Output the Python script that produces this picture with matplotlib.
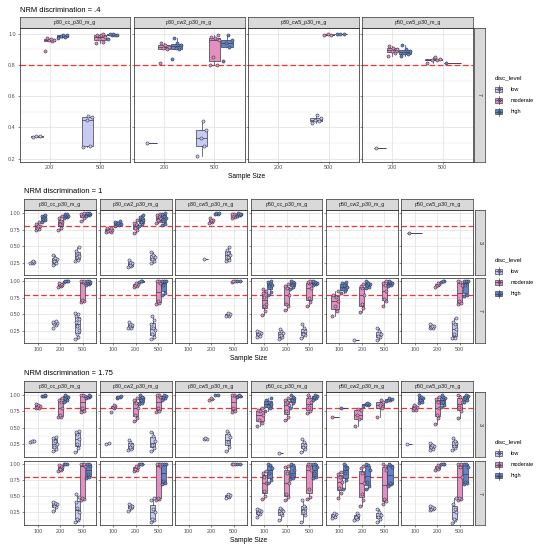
import matplotlib
matplotlib.use("Agg")
import matplotlib.pyplot as plt
from matplotlib.patches import Rectangle
from matplotlib.lines import Line2D

plt.rcParams['font.family'] = ['Liberation Sans', 'DejaVu Sans']

# ---------------- data ----------------
LEVELS = ["low", "moderate", "high"]
SAMPLE_TOP = [200, 500]
SAMPLE = [100, 200, 500]
COLS_TOP = ["p30_cc_p30_m_g", "p30_cw2_p30_m_g", "p30_cw5_p30_m_g", "p50_cw5_p30_m_g"]
COLS = ["p30_cc_p30_m_g", "p30_cw2_p30_m_g", "p30_cw5_p30_m_g",
        "p50_cc_p30_m_g", "p50_cw2_p30_m_g", "p50_cw5_p30_m_g"]
ROWS_TOP = ["7"]
ROWS = ["3", "7"]
TITLES = ["NRM discrimination = .4", "NRM discrimination = 1", "NRM discrimination = 1.75"]
CUTOFF = 0.8

# NRM discrimination = .4, row "7"
d04_p30cc = [
    (200, "low", [0.338, 0.343, 0.347]),
    (200, "moderate", [0.89, 0.955, 0.96, 0.962, 0.965, 0.97]),
    (200, "high", [0.975, 0.98, 0.985, 0.99, 0.99]),
    (500, "low", [0.275, 0.28, 0.45, 0.465, 0.475]),
    (500, "moderate", [0.94, 0.95, 0.965, 0.98, 0.99, 0.995, 1.0]),
    (500, "high", [0.965, 0.99, 0.993, 0.995, 1.0, 1.0]),
]
d04_p30cw2 = [
    (200, "low", [0.302]),
    (200, "moderate", [0.815, 0.90, 0.91, 0.915, 0.93, 0.94]),
    (200, "high", [0.84, 0.90, 0.91, 0.93, 0.94, 0.97]),
    (500, "low", [0.22, 0.28, 0.33, 0.385, 0.44]),
    (500, "moderate", [0.80, 0.80, 0.85, 0.96, 0.97, 0.98, 0.99]),
    (500, "high", [0.825, 0.915, 0.94, 0.96, 0.99]),
]
d04_p30cw5 = [
    (500, "low", [0.43, 0.44, 0.45, 0.46, 0.48]),
    (500, "moderate", [0.99, 0.995, 1.0]),
    (500, "high", [0.998, 1.0, 1.0]),
]
d04_p50cw5 = [
    (200, "low", [0.268]),
    (200, "moderate", [0.86, 0.88, 0.89, 0.90, 0.91, 0.92]),
    (200, "high", [0.855, 0.87, 0.88, 0.89, 0.90, 0.93]),
    (500, "moderate", [0.815, 0.83, 0.835, 0.84, 0.85]),
    (500, "high", [0.811]),
]

# NRM discrimination = 1
d1_p30cc_3 = [
    (100, "low", [0.24, 0.25, 0.26, 0.265, 0.27]),
    (100, "moderate", [0.74, 0.76, 0.78, 0.80, 0.81, 0.83, 0.86]),
    (100, "high", [0.87, 0.89, 0.91, 0.93, 0.95, 0.96, 0.97]),
    (200, "low", [0.21, 0.24, 0.27, 0.30, 0.32, 0.36]),
    (200, "moderate", [0.75, 0.78, 0.83, 0.86, 0.88, 0.92, 0.96]),
    (200, "high", [0.93, 0.94, 0.95, 0.96, 0.97, 0.98, 0.99]),
    (500, "low", [0.27, 0.29, 0.33, 0.35, 0.40, 0.42, 0.48]),
    (500, "moderate", [0.88, 0.93, 0.95, 0.97, 0.98, 0.99, 1.0]),
    (500, "high", [0.96, 0.975, 0.98, 0.99, 1.0, 1.0]),
]
d1_p30cw2_3 = [
    (100, "moderate", [0.71, 0.72, 0.73, 0.74, 0.75, 0.77, 0.78]),
    (100, "high", [0.80, 0.82, 0.83, 0.84, 0.85, 0.87, 0.88]),
    (200, "low", [0.18, 0.20, 0.22, 0.24, 0.26, 0.29]),
    (200, "moderate", [0.70, 0.74, 0.77, 0.80, 0.83, 0.85, 0.90]),
    (200, "high", [0.80, 0.84, 0.87, 0.89, 0.92, 0.94, 0.97]),
    (500, "low", [0.24, 0.28, 0.31, 0.33, 0.37, 0.41]),
    (500, "moderate", [0.85, 0.88, 0.90, 0.93, 0.95, 0.97, 0.99]),
    (500, "high", [0.82, 0.84, 0.88, 0.92, 0.95, 0.98, 1.0]),
]
d1_p30cw5_3 = [
    (200, "low", [0.30]),
    (200, "moderate", [0.85, 0.87, 0.88, 0.89, 0.90, 0.92]),
    (200, "high", [0.985, 0.99, 1.0, 1.0]),
    (500, "low", [0.27, 0.29, 0.33, 0.36, 0.40, 0.44, 0.48]),
    (500, "moderate", [0.93, 0.945, 0.96, 0.97, 0.98, 0.99]),
    (500, "high", [0.95, 0.965, 0.97, 0.98, 0.99, 1.0]),
]
d1_p50cc_3 = []
d1_p50cw2_3 = []
d1_p50cw5_3 = [
    (100, "moderate", [0.70]),
]
d1_p30cc_7 = [
    (200, "low", [0.29, 0.34, 0.36, 0.37, 0.38, 0.39, 0.40]),
    (200, "moderate", [0.92, 0.93, 0.94, 0.95, 0.96, 0.97]),
    (200, "high", [0.99, 1.0, 1.0, 1.0]),
    (500, "low", [0.13, 0.16, 0.20, 0.27, 0.33, 0.38, 0.43, 0.47, 0.50, 0.52]),
    (500, "moderate", [0.69, 0.70, 0.72, 0.98, 0.99, 1.0, 1.0]),
    (500, "high", [0.95, 0.96, 0.98, 0.99, 1.0, 1.0]),
]
d1_p30cw2_7 = [
    (200, "low", [0.29, 0.30, 0.32, 0.34, 0.36, 0.38]),
    (200, "moderate", [0.92, 0.93, 0.95, 0.96, 0.97]),
    (200, "high", [0.99, 1.0, 1.0]),
    (500, "low", [0.13, 0.16, 0.20, 0.27, 0.30, 0.35, 0.41, 0.48]),
    (500, "moderate", [0.66, 0.68, 0.70, 0.98, 1.0, 1.0]),
    (500, "high", [0.80, 0.82, 0.95, 1.0, 1.0, 1.0]),
]
d1_p30cw5_7 = [
    (500, "low", [0.47, 0.48, 0.50, 0.51, 0.52]),
    (500, "moderate", [0.995, 1.0, 1.0]),
    (500, "high", [1.0, 1.0]),
]
d1_p50cc_7 = [
    (100, "low", [0.16, 0.18, 0.20, 0.22, 0.24, 0.25]),
    (100, "moderate", [0.49, 0.55, 0.62, 0.66, 0.77, 0.83, 0.86, 0.88]),
    (100, "high", [0.79, 0.84, 0.93, 0.95, 0.97, 0.99, 1.0]),
    (200, "low", [0.13, 0.16, 0.19, 0.22, 0.25, 0.28]),
    (200, "moderate", [0.56, 0.62, 0.66, 0.80, 0.90, 0.93, 0.96]),
    (200, "high", [0.89, 0.92, 0.94, 0.97, 0.99, 1.0]),
    (500, "low", [0.14, 0.19, 0.21, 0.25, 0.30, 0.35]),
    (500, "moderate", [0.62, 0.69, 0.75, 0.90, 0.97, 0.99, 1.0]),
    (500, "high", [0.95, 0.96, 0.97, 0.98, 0.99, 1.0]),
]
d1_p50cw2_7 = [
    (100, "moderate", [0.47, 0.55, 0.62, 0.70, 0.76, 0.80, 0.85]),
    (100, "high", [0.82, 0.86, 0.88, 0.92, 0.95, 0.97, 0.99]),
    (200, "low", [0.11]),
    (200, "moderate", [0.54, 0.60, 0.65, 0.80, 0.90, 0.93, 0.96]),
    (200, "high", [0.90, 0.92, 0.94, 0.96, 0.98, 1.0]),
    (500, "low", [0.12, 0.16, 0.18, 0.21, 0.25, 0.29]),
    (500, "moderate", [0.62, 0.70, 0.73, 0.85, 0.95, 0.98, 1.0]),
    (500, "high", [0.93, 0.95, 0.97, 0.98, 0.99, 1.0]),
]
d1_p50cw5_7 = [
    (200, "low", [0.29, 0.30, 0.31, 0.32, 0.33, 0.35]),
    (200, "moderate", [0.92, 0.94, 0.95, 0.96, 0.97]),
    (200, "high", [0.99, 1.0, 1.0]),
    (500, "low", [0.14, 0.15, 0.20, 0.28, 0.35, 0.38, 0.45]),
    (500, "moderate", [0.66, 0.67, 0.70, 0.95, 0.99, 1.0]),
    (500, "high", [0.78, 0.79, 0.95, 1.0, 1.0, 1.0]),
]

# NRM discrimination = 1.75
d175_p30cc_3 = [
    (100, "low", [0.28, 0.29, 0.29, 0.30]),
    (100, "moderate", [0.80, 0.81, 0.82, 0.84, 0.85, 0.87]),
    (100, "high", [0.985, 0.99, 0.99, 1.0]),
    (200, "low", [0.14, 0.17, 0.20, 0.25, 0.30, 0.34, 0.36]),
    (200, "moderate", [0.66, 0.67, 0.70, 0.80, 0.90, 0.93, 0.96]),
    (200, "high", [0.90, 0.92, 0.95, 0.97, 0.99, 1.0]),
    (500, "low", [0.13, 0.19, 0.25, 0.33, 0.40, 0.44, 0.45]),
    (500, "moderate", [0.74, 0.76, 0.80, 0.99, 1.0, 1.0]),
    (500, "high", [0.95, 0.97, 0.98, 0.99, 1.0]),
]
d175_p30cw2_3 = [
    (100, "low", [0.255, 0.26]),
    (100, "moderate", [0.74, 0.80, 0.82, 0.83, 0.85]),
    (100, "high", [0.96, 0.97, 0.98, 0.99]),
    (200, "low", [0.15, 0.17, 0.20, 0.24, 0.28, 0.31]),
    (200, "moderate", [0.60, 0.65, 0.70, 0.80, 0.88, 0.92, 0.95]),
    (200, "high", [0.86, 0.88, 0.92, 0.95, 0.98, 1.0]),
    (500, "low", [0.14, 0.19, 0.24, 0.30, 0.38, 0.44]),
    (500, "moderate", [0.74, 0.76, 0.80, 0.98, 1.0, 1.0]),
    (500, "high", [0.93, 0.95, 0.97, 0.99, 1.0]),
]
d175_p30cw5_3 = [
    (200, "low", [0.32, 0.33, 0.335]),
    (200, "moderate", [0.93, 0.94, 0.95]),
    (200, "high", [1.0, 1.0]),
    (500, "low", [0.14, 0.21, 0.28, 0.35, 0.42, 0.45]),
    (500, "moderate", [0.74, 0.76, 0.80, 0.99, 1.0, 1.0]),
    (500, "high", [0.97, 0.99, 1.0]),
]
d175_p50cc_3 = [
    (100, "moderate", [0.52, 0.58, 0.62, 0.70, 0.75, 0.78, 0.81]),
    (100, "high", [0.76, 0.80, 0.84, 0.87, 0.90, 0.93, 0.96]),
    (200, "low", [0.11]),
    (200, "moderate", [0.62, 0.66, 0.75, 0.85, 0.90, 0.92, 0.95]),
    (200, "high", [0.80, 0.88, 0.92, 0.95, 0.97, 1.0]),
    (500, "low", [0.12, 0.18, 0.20, 0.23, 0.28, 0.32]),
    (500, "moderate", [0.73, 0.76, 0.82, 0.90, 0.97, 1.0]),
    (500, "high", [0.92, 0.95, 0.97, 0.99, 1.0]),
]
d175_p50cw2_3 = [
    (100, "moderate", [0.66]),
    (100, "high", [0.81]),
    (200, "moderate", [0.52, 0.64, 0.70, 0.77, 0.79]),
    (200, "high", [0.84, 0.85, 0.86, 0.87, 0.88]),
    (500, "moderate", [0.66, 0.80, 0.85, 0.90, 0.93]),
    (500, "high", [0.91, 0.92, 0.93, 0.94, 0.95]),
]
d175_p50cw5_3 = [
    (100, "low", [0.25]),
    (100, "moderate", [0.77, 0.78, 0.80, 0.82, 0.84, 0.85]),
    (100, "high", [0.88, 0.90, 0.93, 0.96, 0.98, 1.0]),
    (200, "low", [0.16, 0.18, 0.20, 0.22, 0.24, 0.27]),
    (200, "moderate", [0.55, 0.65, 0.70, 0.80, 0.90, 0.94, 0.97]),
    (200, "high", [0.82, 0.85, 0.90, 0.95, 0.98, 1.0]),
    (500, "low", [0.15, 0.19, 0.22, 0.26, 0.30, 0.34]),
    (500, "moderate", [0.65, 0.75, 0.82, 0.90, 0.97, 1.0]),
    (500, "high", [0.90, 0.93, 0.97, 0.99, 1.0]),
]
d175_p30cc_7 = [
    (200, "low", [0.27, 0.33, 0.35, 0.37, 0.39, 0.40]),
    (200, "moderate", [0.89, 0.90, 0.92, 0.94, 0.96, 0.98]),
    (200, "high", [0.99, 1.0, 1.0]),
    (500, "low", [0.09, 0.12, 0.15, 0.25, 0.32, 0.40, 0.48, 0.53]),
    (500, "moderate", [0.44, 0.45, 0.46, 0.97, 0.99, 1.0, 1.0]),
    (500, "high", [0.78, 0.80, 0.84, 0.97, 1.0, 1.0]),
]
d175_p30cw2_7 = [
    (200, "low", [0.27, 0.31, 0.33, 0.34, 0.36, 0.38]),
    (200, "moderate", [0.88, 0.90, 0.92, 0.95, 0.97]),
    (200, "high", [0.99, 1.0, 1.0]),
    (500, "low", [0.09, 0.13, 0.15, 0.25, 0.30, 0.43, 0.47]),
    (500, "moderate", [0.44, 0.45, 0.47, 0.97, 0.99, 1.0, 1.0]),
    (500, "high", [0.68, 0.70, 0.73, 0.99, 1.0, 1.0]),
]
d175_p30cw5_7 = [
    (500, "low", [0.47, 0.49, 0.50, 0.52, 0.53]),
    (500, "moderate", [0.995, 1.0, 1.0]),
    (500, "high", [1.0, 1.0]),
]
d175_p50cc_7 = [
    (100, "low", [0.18, 0.22, 0.24, 0.26, 0.28, 0.29]),
    (100, "moderate", [0.45, 0.50, 0.58, 0.70, 0.80, 0.86, 0.89]),
    (100, "high", [0.70, 0.74, 0.86, 0.93, 0.98, 1.0]),
    (200, "low", [0.12, 0.20, 0.23, 0.27, 0.30, 0.32]),
    (200, "moderate", [0.44, 0.48, 0.53, 0.70, 0.85, 0.94, 0.97]),
    (200, "high", [0.76, 0.78, 0.81, 0.90, 0.98, 1.0]),
    (500, "low", [0.09, 0.20, 0.27, 0.32, 0.35, 0.43]),
    (500, "moderate", [0.45, 0.48, 0.60, 0.90, 0.97, 0.99, 1.0]),
    (500, "high", [0.77, 0.79, 0.85, 0.95, 1.0, 1.0]),
]
d175_p50cw2_7 = [
    (100, "low", [0.16, 0.18, 0.20, 0.22, 0.24]),
    (100, "moderate", [0.46, 0.55, 0.63, 0.72, 0.80, 0.84, 0.87]),
    (100, "high", [0.60, 0.75, 0.86, 0.93, 0.98, 1.0]),
    (200, "low", [0.12, 0.15, 0.18, 0.21, 0.24]),
    (200, "moderate", [0.35, 0.44, 0.53, 0.70, 0.85, 0.93, 0.97]),
    (200, "high", [0.60, 0.65, 0.71, 0.90, 0.98, 1.0]),
    (500, "low", [0.10, 0.15, 0.17, 0.20, 0.25, 0.30]),
    (500, "moderate", [0.38, 0.42, 0.45, 0.90, 0.97, 1.0]),
    (500, "high", [0.66, 0.68, 0.70, 0.95, 0.98, 1.0]),
]
d175_p50cw5_7 = [
    (200, "low", [0.28, 0.29, 0.30, 0.31, 0.33, 0.35]),
    (200, "moderate", [0.90, 0.92, 0.94, 0.96, 0.98]),
    (200, "high", [0.99, 1.0, 1.0]),
    (500, "low", [0.08, 0.12, 0.15, 0.25, 0.30, 0.38, 0.46]),
    (500, "moderate", [0.44, 0.45, 0.46, 0.80, 0.95, 1.0, 1.0]),
    (500, "high", [0.69, 0.70, 0.72, 0.95, 1.0, 1.0]),
]

# ---------------- styling / layout ----------------
FILL = {"low": "#C8CBF4", "moderate": "#E48FBE", "high": "#5F86CC"}
EDGE = "#3A3A4A"
GRID = "#E3E3E3"
STRIP = "#D9D9D9"
BORDER = "#333333"
JIT = [-0.5, 0.3, -0.1, 0.55, 0.1, -0.35, 0.4, -0.25, 0.2, -0.55]

W, H = 542, 550
fig = plt.figure(figsize=(W / 100, H / 100), dpi=100)


def px_axes(x0, y0, x1, y1, **kw):
    return fig.add_axes([x0 / W, 1 - y1 / H, (x1 - x0) / W, (y1 - y0) / H], **kw)


def draw_panel(ax, groups, ns):
    for i, n in enumerate(ns):
        present = [lv for lv in LEVELS if any(g[0] == n and g[1] == lv for g in groups)]
        k = len(present)
        if k == 0:
            continue
        slot = 0.75 / k
        for j, lv in enumerate(present):
            vals = next(g[2] for g in groups if g[0] == n and g[1] == lv)
            pos = (i + 1) - 0.375 + (j + 0.5) * slot
            w = slot * 0.9
            ax.boxplot([vals], positions=[pos], widths=[w], patch_artist=True,
                       showfliers=False, showcaps=False, whis=1.5, manage_ticks=False,
                       boxprops=dict(facecolor=FILL[lv], edgecolor=EDGE, linewidth=0.5),
                       medianprops=dict(color=EDGE, linewidth=0.5),
                       whiskerprops=dict(color=EDGE, linewidth=0.5), zorder=3)
            xs = [pos + JIT[m % len(JIT)] * w * 0.75 for m in range(len(vals))]
            ax.scatter(xs, vals, s=5, facecolor=FILL[lv], edgecolor=EDGE,
                       linewidths=0.4, zorder=4)


def strip_axes(x0, y0, x1, y1, text, rot=0):
    sa = px_axes(x0, y0, x1, y1)
    sa.set_facecolor(STRIP)
    sa.set_xticks([]); sa.set_yticks([])
    for s in sa.spines.values():
        s.set_color(BORDER); s.set_linewidth(0.5)
    sa.text(0.5, 0.5, text, ha="center", va="center", rotation=rot,
            fontsize=3.8, color="#1A1A1A", transform=sa.transAxes)


sections = [
    dict(title=TITLES[0], cols=COLS_TOP, rows=ROWS_TOP, ns=SAMPLE_TOP,
         data=[[d04_p30cc, d04_p30cw2, d04_p30cw5, d04_p50cw5]],
         left=19.5, right=473, strip_top=16.7, rowpx=[(27.7, 161.7)],
         ylim=(0.181, 1.039), yt=[0.2, 0.4, 0.6, 0.8, 1.0], ymin=[0.3, 0.5, 0.7, 0.9],
         yfmt="{:.1f}", title_y=10, xlab_y=177),
    dict(title=TITLES[1], cols=COLS, rows=ROWS, ns=SAMPLE,
         data=[[d1_p30cc_3, d1_p30cw2_3, d1_p30cw5_3, d1_p50cc_3, d1_p50cw2_3, d1_p50cw5_3],
               [d1_p30cc_7, d1_p30cw2_7, d1_p30cw5_7, d1_p50cc_7, d1_p50cw2_7, d1_p50cw5_7]],
         left=24.3, right=473.3, strip_top=199, rowpx=[(210, 275), (278.3, 343.3)],
         ylim=(0.065, 1.045), yt=[0.25, 0.5, 0.75, 1.0], ymin=[0.125, 0.375, 0.625, 0.875],
         yfmt="{:.2f}", title_y=191.5, xlab_y=358.5),
    dict(title=TITLES[2], cols=COLS, rows=ROWS, ns=SAMPLE,
         data=[[d175_p30cc_3, d175_p30cw2_3, d175_p30cw5_3, d175_p50cc_3, d175_p50cw2_3, d175_p50cw5_3],
               [d175_p30cc_7, d175_p30cw2_7, d175_p30cw5_7, d175_p50cc_7, d175_p50cw2_7, d175_p50cw5_7]],
         left=24.3, right=473.3, strip_top=381.3, rowpx=[(392.3, 457.3), (460.7, 525.3)],
         ylim=(0.045, 1.045), yt=[0.25, 0.5, 0.75, 1.0], ymin=[0.125, 0.375, 0.625, 0.875],
         yfmt="{:.2f}", title_y=373.5, xlab_y=540.5),
]

ov = fig.add_axes([0, 0, 1, 1], zorder=10)
ov.set_xlim(0, W); ov.set_ylim(H, 0); ov.axis("off"); ov.patch.set_visible(False)

gap = 3.5
for sec in sections:
    ncol = len(sec["cols"])
    pw = (sec["right"] - sec["left"] - gap * (ncol - 1)) / ncol
    for r, (y0, y1) in enumerate(sec["rowpx"]):
        for c in range(ncol):
            x0 = sec["left"] + c * (pw + gap)
            ax = px_axes(x0, y0, x0 + pw, y1)
            ax.set_xlim(0.4, len(sec["ns"]) + 0.6)
            ax.set_ylim(*sec["ylim"])
            ax.set_yticks(sec["yt"])
            ax.set_yticks(sec["ymin"], minor=True)
            ax.set_xticks(range(1, len(sec["ns"]) + 1))
            ax.grid(True, which="major", color=GRID, linewidth=0.55, zorder=0)
            ax.grid(True, which="minor", axis="y", color=GRID, linewidth=0.3, zorder=0)
            ax.set_axisbelow(True)
            ax.tick_params(which="minor", length=0)
            ax.tick_params(which="major", length=1.5, width=0.4, color=BORDER,
                           labelsize=3.9, labelcolor="#4D4D4D", pad=1.2)
            if c == 0:
                ax.set_yticklabels([sec["yfmt"].format(v) for v in sec["yt"]])
            else:
                ax.set_yticklabels([])
            if r == len(sec["rowpx"]) - 1:
                ax.set_xticklabels([str(n) for n in sec["ns"]])
            else:
                ax.set_xticklabels([])
                ax.tick_params(axis="x", length=0)
            for s in ax.spines.values():
                s.set_color(BORDER); s.set_linewidth(0.55)
            ax.axhline(CUTOFF, color="#FF3030", linestyle=(0, (4.5, 2.2)), linewidth=0.9, zorder=2)
            draw_panel(ax, sec["data"][r][c], sec["ns"])
            if r == 0:
                strip_axes(x0, sec["strip_top"], x0 + pw, y0, sec["cols"][c])
        strip_axes(sec["right"] + 1.3, y0, sec["right"] + 12, y1, sec["rows"][r], rot=-90)

    ov.text(sec["left"], sec["title_y"], sec["title"], ha="left", va="center",
            fontsize=5.4, color="black")
    ov.text((sec["left"] + sec["right"]) / 2, sec["xlab_y"], "Sample Size",
            ha="center", va="center", fontsize=4.8, color="black")

    # legend
    cy = (sec["strip_top"] + sec["rowpx"][-1][1]) / 2
    ov.text(494.5, cy - 11.8, "disc_level", ha="left", va="center", fontsize=4.5)
    for k, lv in enumerate(LEVELS):
        ky = cy + 0.1 + k * 11.2
        kx = 498.7
        ov.add_line(Line2D([kx, kx], [ky - 4, ky + 4], color=EDGE, lw=0.45))
        ov.add_patch(Rectangle((kx - 3.4, ky - 2.7), 6.8, 5.4, facecolor=FILL[lv],
                               edgecolor=EDGE, lw=0.45))
        ov.add_line(Line2D([kx - 3.4, kx + 3.4], [ky, ky], color=EDGE, lw=0.45))
        ov.scatter([kx], [ky], s=5, facecolor=FILL[lv], edgecolor=EDGE, linewidths=0.4)
        ov.text(510.3, ky, lv, ha="left", va="center", fontsize=4.0, color="black")

fig.savefig("out.png", dpi=100)
